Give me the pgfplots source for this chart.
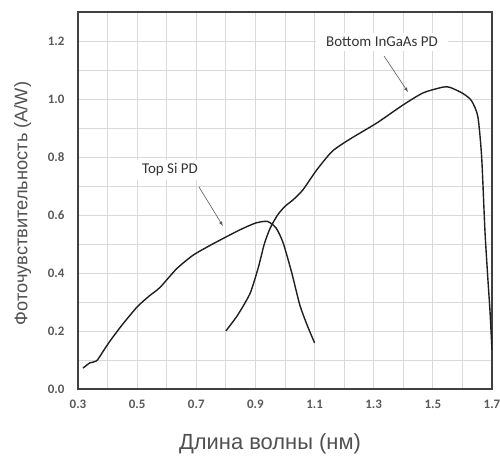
\documentclass[border=0pt]{standalone}
\usepackage{fontspec}
\usepackage{pgfplots}
\pgfplotsset{compat=1.18}
\setmainfont{Carlito}
\newfontfamily\labelfont{Liberation Sans}
\definecolor{gridgray}{HTML}{D9D9D9}
\definecolor{ticktext}{HTML}{595959}
\definecolor{labeltext}{HTML}{505050}
\begin{document}
\begin{tikzpicture}
\begin{axis}[
  scale only axis,
  width=414bp, height=377bp,
  xmin=0.3, xmax=1.7, ymin=0, ymax=1.3,
  xtick={0.3,0.5,...,1.71},
  minor xtick={0.4,0.6,...,1.61},
  ytick={0,0.2,...,1.21},
  minor ytick={0.1,0.3,...,1.31},
  grid=both,
  major grid style={gridgray, line width=0.9pt},
  minor grid style={gridgray, line width=0.9pt},
  axis line style={black!75, line width=1.1pt},
  major tick length=0pt, minor tick length=0pt,
  /pgf/number format/fixed,
  /pgf/number format/fixed zerofill,
  /pgf/number format/precision=1,
  /pgf/number format/assume math mode=true,
  ticklabel style={font=\fontsize{13}{15}\selectfont\bfseries, text=ticktext},
  xticklabel style={yshift=-8pt},
  yticklabel style={xshift=-10pt},
  xlabel={Длина волны (нм)},
  ylabel={Фоточувствительность (A/W)},
  xlabel style={font=\labelfont\fontsize{22}{26}\selectfont, text=labeltext, yshift=-18pt, xshift=-15bp},
  ylabel style={font=\labelfont\fontsize{18.3}{22}\selectfont, text=labeltext, yshift=10pt, xshift=-3bp},
]
% Top Si PD
\addplot[black!88, line width=1.4pt, smooth, tension=0.4] coordinates {
 (0.317,0.072) (0.34,0.090) (0.363,0.097) (0.385,0.130) (0.408,0.165)
 (0.45,0.222) (0.50,0.283) (0.54,0.320) (0.577,0.350) (0.634,0.415)
 (0.69,0.462) (0.75,0.497) (0.80,0.524) (0.85,0.550) (0.90,0.572)
 (0.94,0.578) (0.97,0.555) (0.994,0.503) (1.023,0.400) (1.05,0.290)
 (1.075,0.220) (1.10,0.159)
};
% Bottom InGaAs PD
\addplot[black!88, line width=1.4pt, smooth, tension=0.4] coordinates {
 (0.80,0.200) (0.84,0.255) (0.882,0.330) (0.91,0.420) (0.93,0.500)
 (0.95,0.555) (0.975,0.600) (1.00,0.630) (1.027,0.652) (1.06,0.686)
 (1.107,0.755) (1.16,0.820) (1.22,0.862) (1.31,0.917) (1.40,0.980)
 (1.467,1.021) (1.534,1.041) (1.558,1.040) (1.600,1.020) (1.630,0.995)
 (1.652,0.940) (1.665,0.80) (1.676,0.548) (1.686,0.380) (1.693,0.272)
 (1.700,0.134)
};
\node[fill=white, font=\fontsize{15}{18}\selectfont, text=black!80, inner xsep=10pt, inner ysep=4pt]
  at (axis cs:0.611,0.755) {Top Si PD};
\draw[-latex, black!65, line width=0.6pt] (axis cs:0.709,0.697) -- (axis cs:0.790,0.562);
\node[fill=white, font=\fontsize{15}{18}\selectfont, text=black!80, inner xsep=10pt, inner ysep=4pt]
  at (axis cs:1.328,1.197) {Bottom InGaAs PD};
\draw[-latex, black!65, line width=0.6pt] (axis cs:1.335,1.148) -- (axis cs:1.416,1.024);
\end{axis}
\pgfresetboundingbox
\path (-78bp,-70bp) rectangle (422bp,389bp);
\end{tikzpicture}
\end{document}
